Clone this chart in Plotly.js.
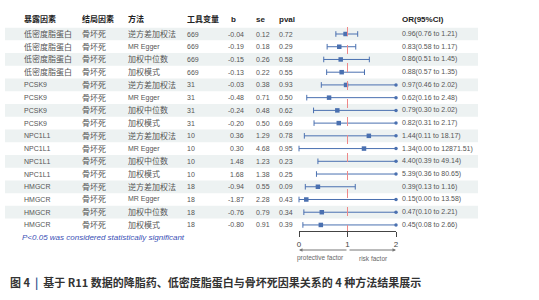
<!DOCTYPE html>
<html><head><meta charset="utf-8">
<script src="https://cdn.plot.ly/plotly-3.0.1.min.js"></script>
<style>html,body{margin:0;padding:0;background:#fff}#c{width:539px;height:300px}</style>
</head><body><div id="c"></div>
<script>
const exposure=["低密度脂蛋白","低密度脂蛋白","低密度脂蛋白","低密度脂蛋白","PCSK9","PCSK9","PCSK9","PCSK9","NPC1L1","NPC1L1","NPC1L1","NPC1L1","HMGCR","HMGCR","HMGCR","HMGCR"];
const outcome=Array(16).fill("骨坏死");
const method=["逆方差加权法","MR Egger","加权中位数","加权模式","逆方差加权法","MR Egger","加权中位数","加权模式","逆方差加权法","MR Egger","加权中位数","加权模式","逆方差加权法","MR Egger","加权中位数","加权模式"];
const nsnp=[669,669,669,669,31,31,31,31,10,10,10,10,18,18,18,18];
const bval=["-0.04","-0.19","-0.15","-0.13","-0.03","-0.48","-0.24","-0.20","0.36","0.30","1.48","1.68","-0.94","-1.87","-0.76","-0.80"];
const seval=["0.12","0.18","0.26","0.22","0.38","0.71","0.48","0.50","1.29","4.68","1.23","1.38","0.55","2.28","0.79","0.91"];
const pval=["0.72","0.29","0.58","0.55","0.93","0.50","0.62","0.69","0.78","0.95","0.23","0.25","0.09","0.43","0.34","0.39"];
const orv=[0.96,0.83,0.86,0.88,0.97,0.62,0.79,0.82,1.44,1.34,4.40,5.39,0.39,0.15,0.47,0.45];
const lo=[0.76,0.58,0.51,0.57,0.46,0.16,0.30,0.31,0.11,0.00,0.39,0.36,0.13,0.00,0.10,0.08];
const hi=[1.21,1.17,1.45,1.35,2.02,2.48,2.02,2.17,18.17,12871.51,49.14,80.65,1.16,13.58,2.21,2.66];
const headers=["暴露因素","结局因素","方法","工具变量","b","se","pval","OR(95%CI)"];
const axisTicks=[0,1,2];

const W=539,H=300,ROW0=34,STEP=12.73,XMAX=2;
const yOf=p=>(p-ROW0)/STEP; // pixel -> row index units
const FONT="Liberation Sans, Arial, Noto Sans CJK SC, sans-serif";
const ann=[],shapes=[];
const colX=[22,80,126,185,229,254,277,400];
function txt(x,i,s,opt={}){
  const cjk=/[\u4e00-\u9fff]/.test(s);
  ann.push(Object.assign({xref:'paper',yref:'y',x:x/W,y:i,text:s,showarrow:false,xanchor:'left',yanchor:'middle',
    font:{family:FONT,size:cjk?8:7,color:'#555'}},opt));
}
headers.forEach((h,k)=>txt(colX[k],yOf(19),'<b>'+h+'</b>',{font:{family:FONT,size:8,color:'#222'}}));
for(let i=0;i<16;i++){
  if(i%2===0) shapes.push({type:'rect',layer:'below',xref:'paper',yref:'y',x0:5/W,x1:478/W,y0:i-0.5,y1:i+0.5,fillcolor:'#edf2f2',line:{width:0}});
  txt(colX[0],i,exposure[i]);
  txt(colX[1],i,outcome[i]);
  txt(colX[2],i,method[i]);
  txt(colX[3],i,String(nsnp[i]));
  txt(246,i,bval[i],{xanchor:'right'});
  txt(colX[5],i,seval[i]);
  txt(colX[6],i,pval[i]);
  txt(colX[7],i,orv[i].toFixed(2)+'('+lo[i].toFixed(2)+' to '+hi[i].toFixed(2)+')',{font:{family:FONT,size:7,color:'#555'}});
}
// reference line
shapes.push({type:'line',xref:'x',yref:'y',x0:1,x1:1,y0:yOf(27),y1:yOf(231),line:{color:'#ee8888',width:1,dash:'dash'}});
// CI lines
const lx=[],ly=[],capx=[],capy=[],arx=[],ary=[],px=[],py=[];
for(let i=0;i<16;i++){
  const a=Math.max(lo[i],0),b=Math.min(hi[i],XMAX);
  lx.push(a,b,null);ly.push(i,i,null);
  capx.push(a);capy.push(i);
  if(hi[i]<=XMAX){capx.push(b);capy.push(i);} else {arx.push(b);ary.push(i);}
  if(orv[i]<=XMAX){px.push(orv[i]);py.push(i);}
}
const C='#4a70b0';
const traces=[
 {x:lx,y:ly,mode:'lines',line:{color:C,width:1},hoverinfo:'skip',cliponaxis:false},
 {x:capx,y:capy,mode:'markers',marker:{symbol:'line-ns',size:4,line:{color:C,width:1}},cliponaxis:false,hoverinfo:'skip'},
 {x:arx,y:ary,mode:'markers',marker:{symbol:'circle',size:3.5,color:C},cliponaxis:false,hoverinfo:'skip'},
 {x:px,y:py,mode:'markers',marker:{symbol:'square',size:4.5,color:C},cliponaxis:false,hoverinfo:'skip'}
];
// bottom labels
ann.push({xref:'paper',yref:'paper',x:20/W,y:1-237/H,text:'<i>P<0.05 was considered statistically significant</i>',showarrow:false,xanchor:'left',yanchor:'middle',font:{family:FONT,size:8,color:'#3a4fb5'}});
ann.push({xref:'x',yref:'paper',x:0,y:1-250/H,ax:(346-297),ay:0,text:'',showarrow:true,arrowhead:2,arrowsize:0.7,arrowwidth:1,arrowcolor:'#777'});
ann.push({xref:'x',yref:'paper',x:2,y:1-250/H,ax:-(398-350),ay:0,text:'',showarrow:true,arrowhead:2,arrowsize:0.7,arrowwidth:1,arrowcolor:'#777'});
ann.push({xref:'paper',yref:'paper',x:321/W,y:1-258/H,text:'protective factor',showarrow:false,xanchor:'center',yanchor:'middle',font:{family:FONT,size:6.5,color:'#666'}});
ann.push({xref:'paper',yref:'paper',x:373/W,y:1-258/H,text:'risk factor',showarrow:false,xanchor:'center',yanchor:'middle',font:{family:FONT,size:6.5,color:'#666'}});
ann.push({xref:'paper',yref:'paper',x:8/W,y:1-282/H,text:'<b>图 4  <span style="color:#2b4a8a">|</span>  基于 R11 数据的降脂药、低密度脂蛋白与骨坏死因果关系的 4 种方法结果展示</b>',showarrow:false,xanchor:'left',yanchor:'middle',font:{family:'Noto Sans CJK SC, sans-serif',size:11,color:'#333'}});

const layout={width:W,height:H,margin:{l:0,r:0,t:0,b:0},paper_bgcolor:'#fff',plot_bgcolor:'rgba(0,0,0,0)',showlegend:false,
 xaxis:{domain:[299/W,396/W],range:[0,XMAX],anchor:'free',position:1-231/H,showline:true,linecolor:'#444',linewidth:1,ticks:'outside',ticklen:5,tickcolor:'#444',tickvals:axisTicks,ticktext:axisTicks.map(String),tickfont:{family:FONT,size:8,color:'#444'},showgrid:false,zeroline:false,fixedrange:true},
 yaxis:{domain:[0,1],range:[yOf(H),yOf(0)],visible:false,showgrid:false,zeroline:false,fixedrange:true},
 annotations:ann,shapes:shapes};
Plotly.newPlot('c',traces,layout,{staticPlot:true,displayModeBar:false});
</script></body></html>
